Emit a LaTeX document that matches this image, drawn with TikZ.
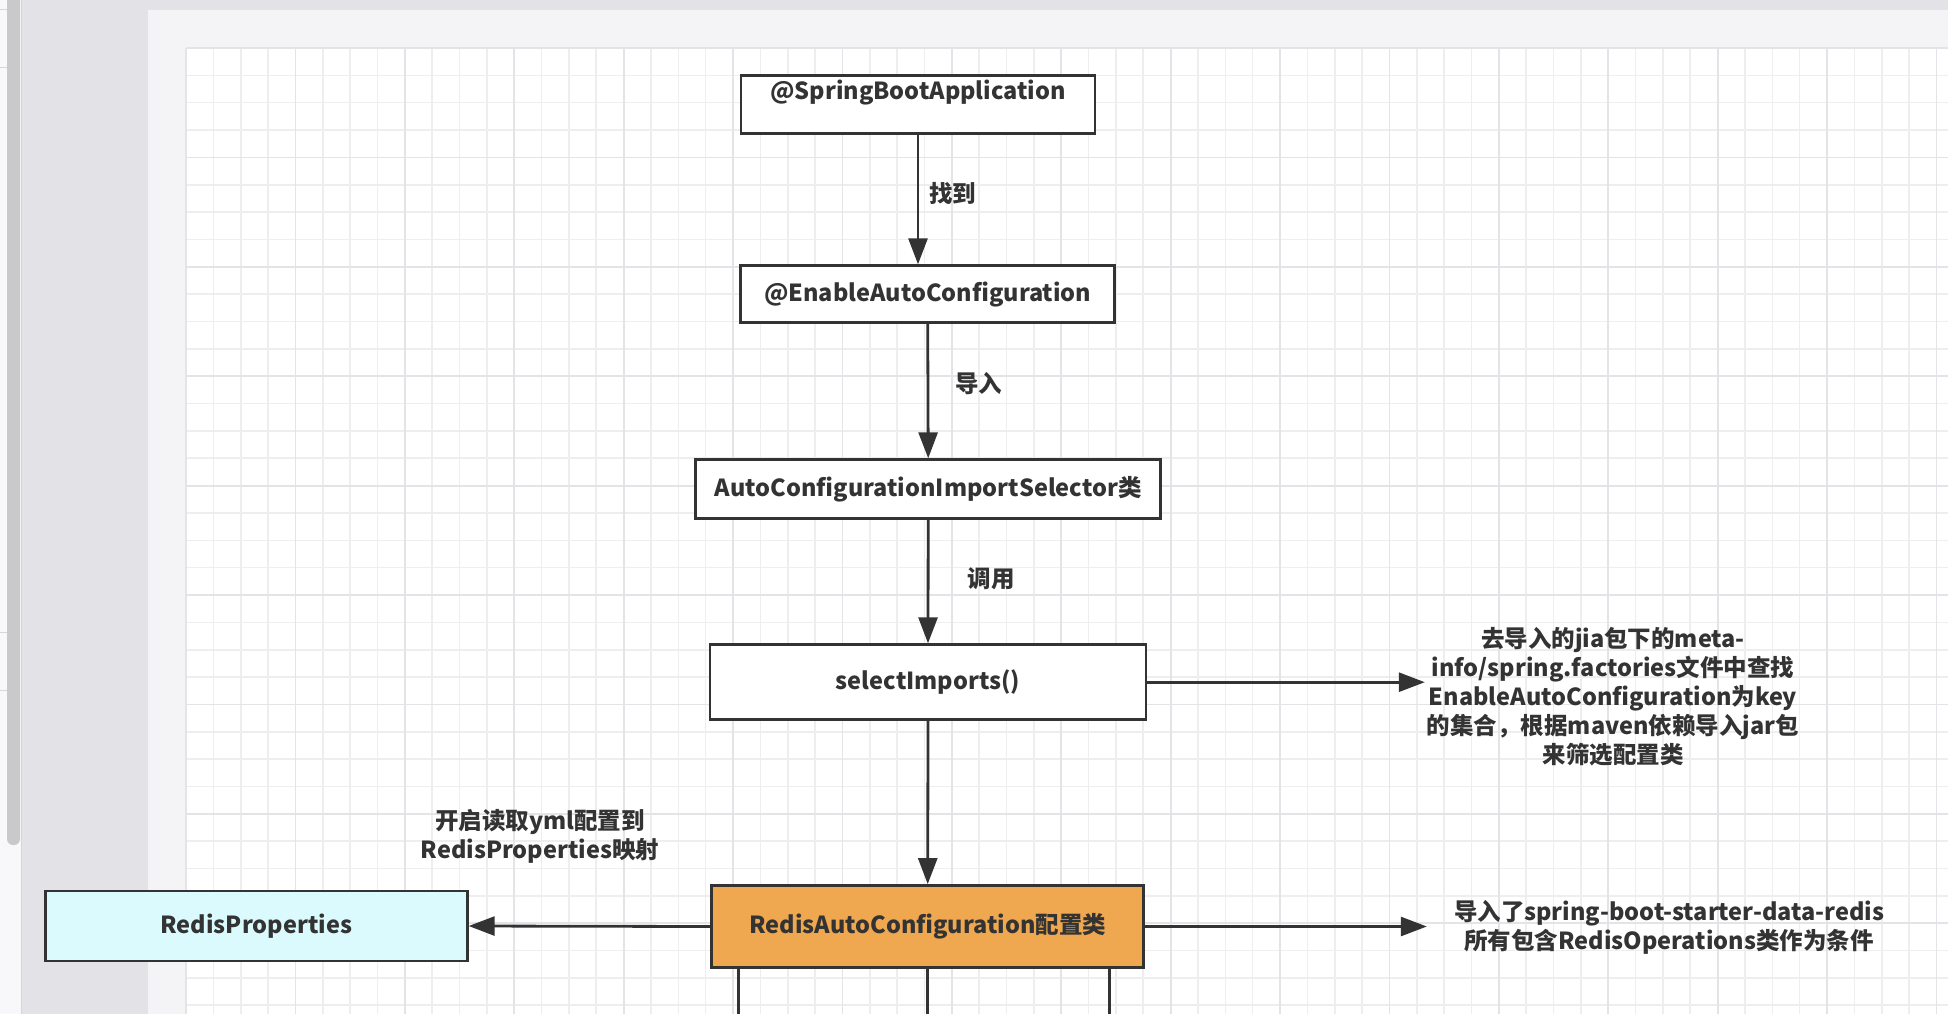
\documentclass[tikz,border=0pt]{standalone}
\usepackage{fontspec}
\setmainfont{Noto Sans CJK SC}
\usetikzlibrary{arrows.meta}
\definecolor{ink}{RGB}{51,51,51}
\definecolor{deskgrey}{RGB}{226,226,231}
\definecolor{pagegrey}{RGB}{244,244,246}
\definecolor{stripwhite}{RGB}{248,248,250}
\definecolor{stripline}{RGB}{214,214,218}
\definecolor{barfill}{RGB}{201,201,203}
\definecolor{minorgrid}{RGB}{238,238,241}
\definecolor{majorgrid}{RGB}{228,228,232}
\definecolor{confOrange}{RGB}{239,167,80}
\definecolor{propCyan}{RGB}{218,250,253}

\begin{document}
\begin{tikzpicture}[x=1pt,y=-1pt,
    box/.style={draw=ink, line width=2.8pt, fill=white, inner sep=0pt, text=ink,
        font=\fontsize{23.5}{29}\selectfont\bfseries, align=center},
    lbl/.style={text=ink, inner sep=0pt, font=\fontsize{23.5}{29}\selectfont\bfseries, align=center},
    flow/.style={draw=ink, line width=2.8pt, -{Triangle[length=26pt,width=19pt]}},
    wire/.style={draw=ink, line width=2.6pt}]
        \useasboundingbox (0,0) rectangle (1948,1014);
        \fill[deskgrey] (0,0) rectangle (1948,1014);
        \fill[stripwhite] (0,0) rectangle (22,1014);
        \foreach \y in {10,68,632,690} {
            \draw[stripline, line width=1pt] (0,\y) -- (7,\y);
        }
        \fill[barfill, rounded corners=6pt] (7,-10) rectangle (20,845);
        \draw[stripline, line width=1pt] (21.5,0) -- (21.5,1014);
        \fill[pagegrey] (148,10) rectangle (1948,1014);
        \fill[white] (186,48) rectangle (1948,1014);
        \foreach \i in {0,...,64} {
            \draw[minorgrid, line width=1.6pt] ({186+27.35*\i},48) -- ({186+27.35*\i},1014);
        }
        \foreach \j in {0,...,35} {
            \draw[minorgrid, line width=1.6pt] (186,{48+27.35*\j}) -- (1948,{48+27.35*\j});
        }
        \foreach \i in {0,4,...,64} {
            \draw[majorgrid, line width=1.8pt] ({186+27.35*\i},48) -- ({186+27.35*\i},1014);
        }
        \foreach \j in {0,4,...,32} {
            \draw[majorgrid, line width=1.8pt] (186,{48+27.35*\j}) -- (1948,{48+27.35*\j});
        }

        \node[box, minimum width=354pt, minimum height=58pt, text height=16pt, text depth=26pt] (app) at (918,104.7) {@SpringBootApplication};
        \node[box, minimum width=374pt, minimum height=57pt] (enable) at (927.7,294.2) {@EnableAutoConfiguration};
        \node[box, minimum width=465pt, minimum height=59pt] (selector) at (928.2,489.2) {AutoConfigurationImportSelector类};
        \node[box, minimum width=436pt, minimum height=75pt] (imports) at (928,682.2) {selectImports()};
        \node[box, fill=confOrange, minimum width=432pt, minimum height=82pt] (redisconf) at (927.7,926.5) {RedisAutoConfiguration配置类};
        \node[box, fill=propCyan, minimum width=422pt, minimum height=70pt] (props) at (256.3,926) {RedisProperties};

        \node[lbl, minimum width=376pt] (factory) at (1613,696.7) {去导入的jia包下的meta-\\info/spring.factories文件中查找\\EnableAutoConfiguration为key\\的集合，根据maven依赖导入jar包\\来筛选配置类};
        \node[lbl, minimum width=484pt] (cond) at (1669,927.5) {导入了spring-boot-starter-data-redis\\所有包含RedisOperations类作为条件};
        \node[lbl] (maplbl) at (540,836) {开启读取yml配置到\\RedisProperties映射};
        \coordinate (pagefoot) at (928,1014);

        \draw[flow] (app.south) -- (app.south |- enable.north) node[lbl, pos=0.45, anchor=west, xshift=10pt] {找到};
        \draw[flow] (enable.south) -- (selector.north) node[lbl, pos=0.44, anchor=west, xshift=26pt] {导入};
        \draw[flow] (selector.south) -- (imports.north) node[lbl, pos=0.48, anchor=west, xshift=38pt] {调用};
        \draw[flow] (imports.south) -- (redisconf.north);
        \draw[flow] (imports.east) -- (imports.east -| factory.west);
        \draw[flow] (redisconf.west) -- (props.east);
        \draw[flow] (redisconf.east) -- (redisconf.east -| cond.west);
        \foreach \dx in {-189,0,182} {
            \draw[wire] ([xshift=\dx pt]redisconf.south) -- ([xshift=\dx pt]redisconf.south |- pagefoot);
        }
    \end{tikzpicture}
\end{document}
